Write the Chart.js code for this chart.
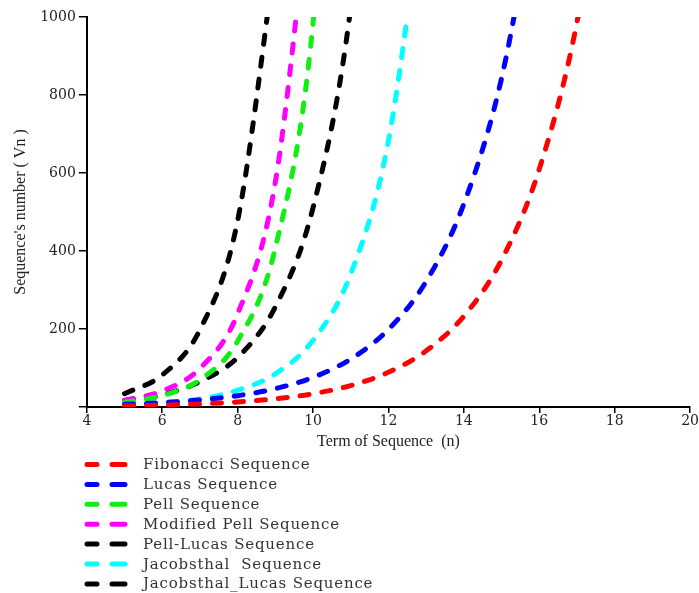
<!DOCTYPE html>
<html>
<head>
<meta charset="utf-8">
<script src="https://cdn.jsdelivr.net/npm/chart.js@4.4.1/dist/chart.umd.min.js"></script>
<style>
  html, body { margin: 0; padding: 0; background: #fff; }
  #wrap { width: 699px; height: 593px; }
</style>
</head>
<body>
<div id="wrap"><canvas id="seqChart" width="699" height="593"></canvas></div>
<script>
// terms of the sequence (x axis), first plotted term is n = 5
const terms = [5, 6, 7, 8, 9, 10, 11, 12, 13, 14, 15, 16, 17, 18];

// values (each series stops once it leaves the top)
const fibonacci = [3, 5, 8, 13, 21, 34, 55, 89, 144, 233, 377, 610, 987, 1597];
const lucas = [7, 11, 18, 29, 47, 76, 123, 199, 322, 521, 843, 1364];
const pell = [12, 29, 70, 169, 408, 985, 2378];
const modifiedPell = [17, 41, 99, 239, 577, 1393];
const pellLucas = [34, 82, 198, 478, 1154];
const jacobsthal = [5, 11, 21, 43, 85, 171, 341, 683, 1365];
const jacobsthalLucas = [17, 31, 65, 127, 257, 511, 1025, 2047];

const seriesNames = [
    "Fibonacci Sequence",
    "Lucas Sequence",
    "Pell Sequence",
    "Modified Pell Sequence",
    "Pell-Lucas Sequence",
    "Jacobsthal  Sequence",
    "Jacobsthal_Lucas Sequence",
];
const seriesValues = [fibonacci, lucas, pell, modifiedPell, pellLucas, jacobsthal, jacobsthalLucas];
const seriesColors = ["#ff0000", "#0000ff", "#11ee11", "#ff00ff", "#000000", "#00ffff", "#000000"];

const xTicks = [4, 6, 8, 10, 12, 14, 16, 18, 20];
const yTicks = [0, 200, 400, 600, 800, 1000];

function toPoints(values) {
    return values.map((v, i) => ({ x: terms[i], y: v }));
}

// legend drawn as a list under the plot, two dashes + label
const listLegend = {
    id: "listLegend",
    afterDraw(chart) {
        const ctx = chart.ctx;
        const top = 464.5;
        const step = 19.9;
        ctx.save();
        chart.data.datasets.forEach((ds, i) => {
            const y = top + i * step;
            ctx.strokeStyle = ds.borderColor;
            ctx.lineWidth = 5;
            ctx.lineCap = "round";
            ctx.beginPath();
            ctx.moveTo(87, y); ctx.lineTo(97, y);
            ctx.moveTo(112, y); ctx.lineTo(125, y);
            ctx.stroke();
            ctx.fillStyle = "#333";
            ctx.font = "15px 'DejaVu Serif'";
            ctx.letterSpacing = "0.8px";
            ctx.textBaseline = "alphabetic";
            ctx.fillText(ds.label, 143, y + 4.5);
        });
        ctx.restore();
    },
};

document.addEventListener("DOMContentLoaded", function () {
    const ctx = document.getElementById("seqChart").getContext("2d");
    new Chart(ctx, {
        type: "line",
        data: {
            datasets: seriesNames.map((name, i) => ({
                label: name,
                data: toPoints(seriesValues[i]),
                borderColor: seriesColors[i],
                backgroundColor: seriesColors[i],
                borderWidth: 5,
                borderDash: [9, 13],
                borderCapStyle: "round",
                pointRadius: 0,
                fill: false,
                cubicInterpolationMode: "monotone",
                clip: 0,
            })),
        },
        plugins: [listLegend],
        options: {
            responsive: false,
            animation: false,
            layout: { padding: { top: 17, right: 2, left: 8, bottom: 142 } },
            plugins: {
                legend: { display: false },
                tooltip: { enabled: false },
            },
            scales: {
                x: {
                    type: "linear",
                    min: 4,
                    max: 20,
                    afterBuildTicks: (axis) => { axis.ticks = xTicks.map((v) => ({ value: v })); },
                    grid: { drawOnChartArea: false, tickLength: 6, color: "#000", lineWidth: 1.5 },
                    border: { color: "#000", width: 2 },
                    ticks: { color: "#222", padding: 0, font: { family: "'DejaVu Serif'", size: 14 } },
                    title: {
                        display: true,
                        text: "Term of Sequence  (n)",
                        color: "#222",
                        padding: { top: 2, bottom: 0 },
                        font: { family: "'Liberation Serif'", size: 16 },
                    },
                },
                y: {
                    type: "linear",
                    min: 0,
                    max: 1000,
                    afterBuildTicks: (axis) => { axis.ticks = yTicks.map((v) => ({ value: v })); },
                    grid: { drawOnChartArea: false, tickLength: 8, color: "#000", lineWidth: 1.5 },
                    border: { color: "#000", width: 2 },
                    ticks: {
                        color: "#222",
                        padding: 3,
                        font: { family: "'DejaVu Serif'", size: 14 },
                        callback: (v) => (v === 0 ? "" : v),
                    },
                    title: {
                        display: true,
                        text: "Sequence's number ( Vn )",
                        color: "#222",
                        padding: { top: 3, bottom: 7 },
                        font: { family: "'Liberation Serif'", size: 16 },
                    },
                },
            },
        },
    });
});
</script>
</body>
</html>
